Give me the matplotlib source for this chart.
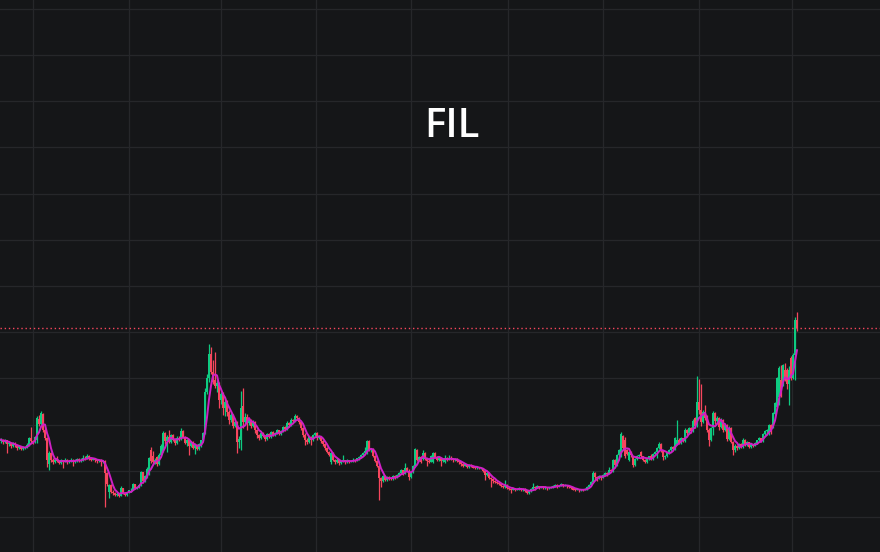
import numpy as np
import pandas as pd
import matplotlib
matplotlib.use('Agg')
import matplotlib.pyplot as plt

### daily FIL candles (price units)
opens = [
    5.55, 5.62, 5.50, 5.58, 5.40, 5.45, 5.30, 5.42, 5.35, 5.20,
    5.28, 5.15, 5.22, 5.25, 5.35, 5.70, 5.55, 5.50, 5.60, 6.65,
    6.40, 6.90, 6.10, 5.70, 4.40, 4.95, 4.60, 4.50, 4.62, 4.55,
    4.45, 4.58, 4.52, 4.60, 4.48, 4.55, 4.62, 4.50, 4.58, 4.65,
    4.55, 4.60, 4.72, 4.68, 4.78, 4.70, 4.62, 4.65, 4.58, 4.55,
    4.60, 4.52, 4.55, 3.95, 3.00, 3.35, 3.00, 2.95, 2.85, 2.92,
    2.80, 3.20, 2.95, 2.85, 3.00, 3.08, 3.12, 3.40, 3.20, 3.25,
    3.35, 3.98, 3.55, 3.80, 3.90, 5.10, 4.80, 4.50, 4.75, 4.40,
    4.85, 5.05, 5.95, 5.55, 5.75, 5.50, 5.85, 5.60, 5.45, 5.70,
    5.65, 6.05, 5.75, 5.45, 5.60, 5.30, 5.50, 5.20, 5.35, 5.15,
    5.30, 5.60, 5.95, 8.00, 8.70, 9.90, 9.00, 8.60, 8.30, 8.45,
    7.60, 7.90, 7.20, 7.50, 7.00, 6.60, 6.85, 6.30, 6.50, 5.50,
    5.60, 7.30, 6.50, 6.75, 6.45, 6.60, 6.30, 6.50, 6.10, 5.85,
    5.70, 5.95, 5.80, 5.65, 5.90, 5.75, 6.00, 5.85, 5.95, 6.10,
    5.90, 6.05, 6.25, 6.15, 6.45, 6.35, 6.60, 6.55, 6.80, 6.70,
    6.50, 6.20, 5.85, 5.60, 5.50, 5.75, 5.60, 5.85, 5.95, 5.70,
    5.80, 5.55, 5.40, 5.20, 5.00, 4.50, 4.95, 4.60, 4.50, 4.62,
    4.45, 4.55, 4.58, 4.48, 4.60, 4.52, 4.55, 4.62, 4.58, 4.68,
    4.75, 4.85, 4.95, 4.95, 5.55, 5.10, 5.15, 4.80, 4.55, 4.30,
    3.70, 3.55, 3.80, 3.60, 3.75, 3.70, 3.65, 3.80, 3.72, 3.85,
    3.95, 4.10, 3.90, 4.20, 4.05, 3.75, 4.00, 4.30, 5.10, 4.60,
    4.75, 4.65, 4.95, 4.65, 4.55, 4.50, 4.50, 4.95, 4.75, 4.60,
    4.70, 4.55, 4.50, 4.70, 4.60, 4.72, 4.65, 4.58, 4.65, 4.55,
    4.48, 4.40, 4.30, 4.38, 4.25, 4.35, 4.30, 4.22, 4.20, 4.22,
    4.18, 4.20, 4.05, 3.85, 3.95, 3.70, 3.65, 3.55, 3.50, 3.45,
    3.40, 3.30, 3.25, 3.35, 3.20, 3.15, 3.10, 3.18, 3.12, 3.15,
    3.20, 3.10, 3.15, 3.05, 2.95, 3.05, 3.15, 3.25, 3.20, 3.30,
    3.22, 3.28, 3.20, 3.25, 3.18, 3.22, 3.25, 3.30, 3.35, 3.28,
    3.32, 3.38, 3.30, 3.35, 3.28, 3.25, 3.18, 3.12, 3.10, 3.15,
    3.08, 3.12, 3.10, 3.15, 3.25, 3.35, 3.50, 3.95, 3.75, 3.70,
    3.80, 3.72, 3.85, 3.95, 3.90, 4.10, 4.05, 4.60, 4.35, 4.85,
    5.00, 5.80, 5.60, 5.10, 4.60, 5.00, 4.75, 4.35, 4.65, 4.80,
    5.00, 4.78, 4.60, 4.50, 4.70, 4.80, 4.65, 4.90, 5.00, 5.20,
    5.40, 5.05, 4.75, 4.80, 4.95, 5.10, 5.25, 5.15, 5.40, 5.60,
    5.45, 5.70, 5.55, 6.10, 5.95, 6.20, 6.05, 6.70, 6.35, 7.50,
    7.10, 6.50, 7.00, 6.70, 6.10, 5.60, 6.20, 6.95, 6.55, 6.70,
    6.25, 6.60, 6.10, 6.35, 5.65, 6.20, 5.50, 5.10, 5.30, 5.20,
    5.40, 5.25, 5.60, 5.35, 5.50, 5.25, 5.40, 5.30, 5.45, 5.58,
    5.70, 5.55, 5.90, 6.05, 5.90, 6.35, 6.25, 6.90, 7.25, 7.75,
    8.60, 8.35, 9.10, 9.10, 8.40, 9.70, 8.70, 9.85, 11.60,
]
highs = [
    5.70, 5.65, 5.65, 5.60, 5.55, 5.50, 5.50, 5.48, 5.40, 5.35,
    5.32, 5.30, 5.32, 5.45, 5.75, 6.25, 5.62, 5.80, 6.80, 6.85,
    7.05, 6.95, 6.20, 5.75, 5.05, 5.00, 4.68, 4.70, 4.80, 4.60,
    4.65, 4.62, 4.68, 4.64, 4.62, 4.70, 4.66, 4.65, 4.72, 4.70,
    4.68, 4.85, 4.80, 4.90, 4.85, 4.75, 4.70, 4.68, 4.62, 4.64,
    4.63, 4.60, 4.58, 4.00, 3.40, 3.40, 3.08, 3.00, 2.98, 2.96,
    3.28, 3.22, 3.00, 3.02, 3.10, 3.18, 3.45, 3.42, 3.30, 3.40,
    4.05, 4.02, 3.85, 4.25, 4.75, 5.25, 5.05, 4.70, 4.80, 4.95,
    5.40, 6.05, 6.00, 5.85, 6.10, 5.90, 5.92, 5.70, 5.78, 5.80,
    6.20, 6.10, 5.80, 5.65, 5.62, 5.55, 5.55, 5.40, 5.38, 5.45,
    5.62, 6.00, 8.20, 8.90, 10.40, 10.25, 9.60, 10.00, 8.60, 8.50,
    8.00, 8.00, 7.75, 7.60, 7.10, 6.95, 6.90, 6.60, 6.55, 5.80,
    8.05, 8.20, 6.95, 6.90, 6.70, 6.65, 6.60, 6.55, 6.15, 5.90,
    6.00, 6.00, 5.85, 5.95, 5.95, 6.05, 6.05, 6.00, 6.15, 6.12,
    6.10, 6.30, 6.30, 6.55, 6.50, 6.70, 6.65, 6.90, 6.85, 6.75,
    6.55, 6.25, 5.95, 5.70, 5.80, 5.78, 5.90, 6.00, 5.98, 5.85,
    5.82, 5.60, 5.45, 5.25, 5.05, 5.00, 4.98, 4.65, 4.68, 4.64,
    4.60, 4.85, 4.62, 4.65, 4.62, 4.60, 4.68, 4.66, 4.72, 4.78,
    4.90, 5.00, 5.25, 5.60, 5.60, 5.20, 5.18, 4.85, 4.60, 4.35,
    3.75, 3.85, 3.85, 3.80, 3.78, 3.75, 3.85, 3.84, 3.90, 4.00,
    4.15, 4.12, 4.45, 4.25, 4.15, 4.05, 4.35, 5.20, 5.15, 4.80,
    4.78, 5.10, 5.00, 4.70, 4.65, 4.85, 5.00, 4.98, 4.80, 4.75,
    4.72, 4.68, 4.85, 4.75, 4.85, 4.78, 4.70, 4.70, 4.68, 4.58,
    4.52, 4.45, 4.42, 4.40, 4.38, 4.38, 4.32, 4.25, 4.26, 4.24,
    4.24, 4.22, 4.08, 4.00, 3.98, 3.75, 3.68, 3.60, 3.55, 3.50,
    3.45, 3.35, 3.60, 3.38, 3.25, 3.18, 3.22, 3.20, 3.20, 3.25,
    3.22, 3.20, 3.18, 3.08, 3.10, 3.20, 3.45, 3.28, 3.35, 3.32,
    3.32, 3.30, 3.28, 3.27, 3.25, 3.30, 3.35, 3.42, 3.38, 3.36,
    3.45, 3.40, 3.40, 3.37, 3.30, 3.28, 3.20, 3.15, 3.18, 3.17,
    3.15, 3.14, 3.18, 3.28, 3.38, 3.55, 4.05, 4.00, 3.80, 3.85,
    3.82, 3.90, 4.00, 3.98, 4.25, 4.15, 4.65, 4.65, 4.90, 5.15,
    6.00, 5.85, 5.75, 5.15, 5.05, 5.05, 4.80, 4.70, 4.85, 4.90,
    5.05, 4.80, 4.65, 4.75, 4.82, 4.90, 4.95, 5.05, 5.25, 5.50,
    5.45, 5.10, 4.85, 5.00, 5.15, 5.28, 5.30, 5.75, 6.60, 5.70,
    5.75, 5.72, 6.20, 6.15, 6.25, 6.25, 6.65, 6.75, 8.80, 8.65,
    8.40, 7.10, 7.35, 6.85, 6.20, 6.25, 7.05, 7.00, 6.80, 6.75,
    6.70, 6.65, 6.40, 6.40, 6.30, 6.25, 5.55, 5.40, 5.35, 5.45,
    5.45, 5.70, 5.65, 5.55, 5.52, 5.45, 5.42, 5.50, 5.62, 5.75,
    5.72, 5.95, 6.10, 6.15, 6.40, 6.40, 7.00, 7.50, 8.75, 9.30,
    9.35, 9.40, 9.45, 9.20, 9.30, 9.80, 9.95, 11.75, 12.00,
]
lows = [
    5.45, 5.40, 5.45, 4.95, 5.30, 5.20, 5.25, 5.25, 5.10, 5.15,
    5.10, 5.10, 5.15, 5.20, 5.30, 5.45, 5.40, 5.45, 5.45, 6.30,
    6.35, 6.00, 5.60, 4.25, 4.10, 4.50, 4.40, 4.45, 4.50, 4.40,
    4.42, 4.20, 4.48, 4.40, 4.45, 4.50, 4.30, 4.46, 4.52, 4.50,
    4.50, 4.56, 4.62, 4.64, 4.62, 4.55, 4.58, 4.52, 4.45, 4.50,
    4.30, 4.45, 2.25, 3.30, 2.70, 2.95, 2.85, 2.78, 2.80, 2.75,
    2.78, 2.90, 2.80, 2.82, 2.95, 3.02, 3.08, 3.15, 3.15, 3.20,
    3.30, 3.45, 3.50, 3.70, 3.85, 4.45, 4.40, 4.40, 4.30, 4.35,
    4.80, 5.00, 5.40, 5.00, 5.45, 5.45, 5.55, 5.35, 5.40, 5.55,
    5.60, 5.70, 5.40, 5.30, 4.85, 5.25, 5.15, 4.90, 5.10, 5.10,
    5.25, 5.55, 5.90, 7.90, 8.50, 8.90, 8.40, 8.20, 8.00, 7.20,
    7.40, 6.85, 6.80, 6.80, 6.40, 6.50, 6.20, 6.25, 4.95, 5.20,
    5.10, 6.20, 6.40, 6.10, 6.35, 6.20, 6.25, 5.95, 5.70, 5.60,
    5.65, 5.75, 5.55, 5.60, 5.70, 5.70, 5.80, 5.80, 5.90, 5.85,
    5.85, 6.00, 6.05, 6.10, 6.25, 6.30, 6.45, 6.50, 6.60, 6.40,
    6.10, 5.75, 5.35, 5.40, 5.45, 5.35, 5.55, 5.80, 5.60, 5.65,
    5.45, 5.30, 5.10, 4.95, 4.80, 4.40, 4.55, 4.40, 4.45, 4.35,
    4.42, 4.50, 4.40, 4.45, 4.45, 4.48, 4.50, 4.52, 4.55, 4.60,
    4.70, 4.80, 4.90, 4.90, 5.05, 5.00, 4.75, 4.50, 4.25, 2.60,
    3.25, 3.50, 3.55, 3.55, 3.62, 3.58, 3.60, 3.65, 3.70, 3.80,
    3.90, 3.85, 3.88, 4.00, 3.60, 3.70, 3.95, 4.25, 4.55, 4.55,
    4.45, 4.60, 4.60, 4.30, 4.45, 4.48, 4.45, 4.70, 4.55, 4.55,
    4.30, 4.50, 4.45, 4.55, 4.58, 4.60, 4.52, 4.55, 4.50, 4.42,
    4.30, 4.25, 4.28, 4.20, 4.22, 4.25, 4.18, 4.15, 4.16, 4.14,
    4.15, 4.00, 3.60, 3.80, 3.65, 3.25, 3.45, 3.45, 3.40, 3.35,
    3.25, 3.20, 3.22, 3.15, 3.10, 2.95, 3.08, 3.05, 3.08, 3.12,
    3.05, 3.05, 3.00, 2.90, 2.92, 3.00, 3.10, 3.12, 3.18, 3.15,
    3.18, 3.15, 3.16, 3.12, 3.15, 3.18, 3.22, 3.26, 3.22, 3.25,
    3.28, 3.25, 3.28, 3.22, 3.20, 3.14, 3.08, 3.05, 3.08, 3.02,
    3.05, 3.04, 3.08, 3.12, 3.22, 3.32, 3.45, 3.60, 3.55, 3.65,
    3.62, 3.70, 3.82, 3.82, 3.88, 3.98, 4.00, 4.25, 4.30, 4.80,
    4.75, 5.10, 4.70, 4.85, 4.55, 4.75, 4.25, 4.30, 4.60, 4.75,
    4.72, 4.55, 4.45, 4.45, 4.62, 4.60, 4.60, 4.85, 4.70, 5.15,
    5.00, 4.60, 4.65, 4.75, 4.90, 5.05, 5.10, 5.10, 5.35, 5.40,
    5.40, 5.50, 5.50, 5.85, 5.90, 5.95, 6.00, 6.20, 6.25, 6.90,
    6.30, 6.45, 6.60, 6.00, 5.30, 5.55, 5.85, 6.40, 6.45, 6.10,
    6.20, 6.00, 6.05, 5.55, 5.60, 5.45, 4.85, 5.00, 5.10, 5.15,
    5.20, 5.20, 5.30, 5.30, 5.20, 5.22, 5.25, 5.28, 5.40, 5.55,
    5.50, 5.50, 5.85, 5.85, 5.85, 5.90, 6.20, 6.85, 7.20, 7.35,
    7.75, 8.30, 8.55, 8.15, 7.35, 8.60, 8.65, 8.60, 11.05,
]
closes = [
    5.62, 5.50, 5.58, 5.40, 5.45, 5.30, 5.42, 5.35, 5.20, 5.28,
    5.15, 5.22, 5.25, 5.35, 5.70, 5.55, 5.50, 5.75, 6.70, 6.40,
    6.95, 6.10, 5.70, 4.60, 4.95, 4.60, 4.50, 4.62, 4.55, 4.45,
    4.58, 4.52, 4.60, 4.48, 4.55, 4.62, 4.50, 4.58, 4.65, 4.55,
    4.60, 4.72, 4.68, 4.78, 4.70, 4.62, 4.65, 4.58, 4.55, 4.60,
    4.52, 4.55, 3.95, 3.40, 3.35, 3.00, 2.95, 2.85, 2.92, 2.80,
    3.20, 2.95, 2.85, 2.98, 3.08, 3.12, 3.40, 3.20, 3.25, 3.35,
    3.98, 3.55, 3.80, 4.15, 4.70, 4.55, 4.50, 4.62, 4.40, 4.85,
    5.30, 5.95, 5.55, 5.75, 5.50, 5.85, 5.60, 5.45, 5.70, 5.65,
    6.05, 5.75, 5.45, 5.60, 5.30, 5.50, 5.20, 5.35, 5.15, 5.40,
    5.60, 5.95, 8.00, 8.70, 9.90, 9.00, 8.50, 8.30, 8.45, 7.60,
    7.90, 7.20, 7.50, 7.00, 6.60, 6.85, 6.30, 6.50, 5.50, 5.65,
    7.20, 6.50, 6.75, 6.45, 6.60, 6.30, 6.50, 6.10, 5.85, 5.70,
    5.95, 5.80, 5.65, 5.90, 5.75, 6.00, 5.85, 5.95, 6.10, 5.90,
    6.05, 6.25, 6.15, 6.45, 6.35, 6.60, 6.55, 6.80, 6.70, 6.50,
    6.20, 5.85, 5.60, 5.50, 5.75, 5.60, 5.85, 5.95, 5.70, 5.80,
    5.55, 5.40, 5.20, 5.00, 4.85, 4.95, 4.60, 4.50, 4.62, 4.45,
    4.55, 4.58, 4.48, 4.60, 4.52, 4.55, 4.62, 4.58, 4.68, 4.75,
    4.85, 4.95, 5.05, 5.55, 5.10, 5.15, 4.80, 4.55, 4.30, 3.70,
    3.55, 3.80, 3.60, 3.75, 3.70, 3.65, 3.80, 3.72, 3.85, 3.95,
    4.10, 3.90, 4.20, 4.05, 3.75, 4.00, 4.30, 5.15, 4.60, 4.75,
    4.50, 4.95, 4.65, 4.55, 4.50, 4.80, 4.95, 4.75, 4.60, 4.70,
    4.55, 4.65, 4.70, 4.60, 4.72, 4.65, 4.58, 4.65, 4.55, 4.48,
    4.40, 4.30, 4.38, 4.25, 4.35, 4.30, 4.22, 4.20, 4.22, 4.18,
    4.20, 4.05, 3.85, 3.95, 3.70, 3.65, 3.55, 3.50, 3.45, 3.40,
    3.30, 3.25, 3.35, 3.20, 3.15, 3.10, 3.18, 3.12, 3.15, 3.20,
    3.10, 3.15, 3.05, 2.95, 3.05, 3.15, 3.25, 3.20, 3.30, 3.22,
    3.28, 3.20, 3.25, 3.18, 3.22, 3.25, 3.30, 3.35, 3.28, 3.32,
    3.38, 3.30, 3.35, 3.28, 3.25, 3.18, 3.12, 3.10, 3.15, 3.08,
    3.12, 3.10, 3.15, 3.25, 3.35, 3.50, 3.95, 3.75, 3.70, 3.80,
    3.72, 3.85, 3.95, 3.90, 4.10, 4.05, 4.60, 4.35, 4.85, 5.10,
    5.90, 5.20, 4.80, 4.90, 5.00, 4.85, 4.35, 4.65, 4.80, 4.85,
    4.78, 4.60, 4.50, 4.70, 4.80, 4.65, 4.90, 5.00, 5.20, 5.40,
    5.05, 4.75, 4.80, 4.95, 5.10, 5.25, 5.15, 5.70, 5.60, 5.45,
    5.70, 5.55, 6.10, 5.95, 6.20, 6.05, 6.55, 6.30, 7.50, 7.10,
    6.50, 7.00, 6.70, 6.10, 5.60, 6.20, 6.95, 6.55, 6.70, 6.25,
    6.60, 6.10, 6.35, 5.65, 6.20, 5.50, 5.10, 5.30, 5.20, 5.40,
    5.25, 5.60, 5.35, 5.50, 5.25, 5.40, 5.30, 5.45, 5.58, 5.70,
    5.55, 5.90, 6.05, 6.10, 6.35, 6.00, 6.95, 7.45, 8.70, 9.20,
    7.80, 9.35, 8.60, 8.40, 9.10, 8.70, 9.85, 11.60, 11.20,
]
title = 'FIL'
last_price = 11.20   # dotted price line

# candle index of the date grid lines
vgrid_idx = [16, 64, 110, 157.5, 205, 253.5, 301, 349, 395.5]

BG = '#151618'
GRID = '#26272a'
UP = '#0ecb81'
DOWN = '#f6465d'
MA_COLOR = '#cf1fc6'

df = pd.DataFrame({'open': opens, 'high': highs, 'low': lows, 'close': closes})
assert len(df) == 399, len(df)
df['ma'] = df['close'].rolling(5, min_periods=1).mean()
x = np.arange(len(df))
up = df['close'] >= df['open']
colors = np.where(up, UP, DOWN)

fig = plt.figure(figsize=(8.8, 5.52), dpi=100, facecolor=BG)
ax = fig.add_axes([0, 0, 1, 1])
ax.set_facecolor(BG)

ax.set_xlim(-0.5, 439.5)
ax.set_ylim(0, 27.6)

# grid
for gx in vgrid_idx:
    ax.axvline(gx, color=GRID, lw=0.9, zorder=0)
for gy in np.arange(1.75, 27.6, 2.31):
    ax.axhline(gy, color=GRID, lw=0.9, zorder=0)

# wicks + bodies
ax.vlines(x, df['low'], df['high'], colors=colors, lw=0.9, zorder=2)
body_h = (df['close'] - df['open']).abs().clip(lower=0.03)
body_b = df[['open', 'close']].min(axis=1)
ax.bar(x, body_h, bottom=body_b, width=0.9, color=colors, lw=0, zorder=3)

# moving average
ax.plot(x, df['ma'], color=MA_COLOR, lw=1.4, zorder=4)

# last price line
ax.axhline(last_price, color=DOWN, lw=1.0, ls=(0, (1, 2)), zorder=5)

ax.axis('off')
fig.text(452 / 880, 1 - 137 / 552, title, color='white', fontsize=29,
         fontweight=600, family=['Open Sans', 'Noto Sans', 'DejaVu Sans'],
         ha='center', va='baseline')

fig.savefig('out.png', dpi=100, facecolor=BG)
